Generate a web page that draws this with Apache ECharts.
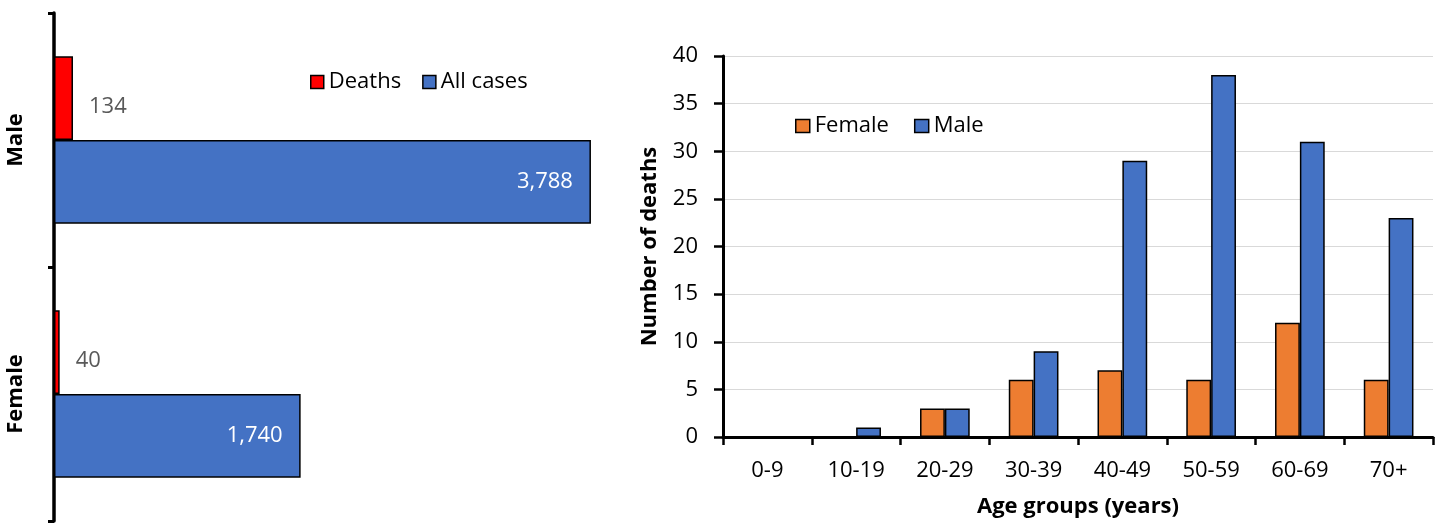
<!DOCTYPE html>
<html>
<head>
<meta charset="utf-8">
<script src="https://cdn.jsdelivr.net/npm/echarts@6/dist/echarts.min.js"></script>
<style>html,body{margin:0;padding:0;background:#fff}#c{width:1445px;height:523px}</style>
</head>
<body>
<div id="c"></div>
<script>
// Left chart data
const sexCategories = ['Male', 'Female'];
const deathsBySex = [134, 40];
const casesBySex = [3788, 1740];
// Right chart data
const ageGroups = ['0-9', '10-19', '20-29', '30-39', '40-49', '50-59', '60-69', '70+'];
const femaleDeaths = [0, 0, 3, 6, 7, 6, 12, 6];
const maleDeaths = [0, 1, 3, 9, 29, 38, 31, 23];

const FONT = 'Open Sans';
const FS = 22;
const chart = echarts.init(document.getElementById('c'));
const fmt = p => p.value.toLocaleString('en-US');

chart.setOption({
  animation: false,
  textStyle: { fontFamily: FONT },
  grid: [
    { left: 54, top: 13, bottom: 2, width: 567 },
    { left: 723, right: 12, top: 56, bottom: 83 }
  ],
  legend: [
    {
      data: ['Deaths', 'All cases'], left: 310, top: 71, padding: 0,
      itemWidth: 13, itemHeight: 13, itemGap: 21,
      icon: 'rect',
      itemStyle: { borderColor: '#000', borderWidth: 1.5 },
      textStyle: { fontFamily: FONT, fontSize: FS, color: '#000' }
    },
    {
      data: ['Female', 'Male'], left: 795, top: 115, padding: 0,
      itemWidth: 14, itemHeight: 13, itemGap: 25,
      icon: 'rect',
      itemStyle: { borderColor: '#000', borderWidth: 1.5 },
      textStyle: { fontFamily: FONT, fontSize: FS, color: '#000' }
    }
  ],
  xAxis: [
    { gridIndex: 0, type: 'value', min: 0, max: 4000, show: false },
    {
      gridIndex: 1, type: 'category', data: ageGroups,
      axisLine: { lineStyle: { color: '#000', width: 3 } },
      axisTick: { show: true, length: 8, lineStyle: { color: '#000', width: 2.5 } },
      axisLabel: { color: '#000', fontSize: FS, fontFamily: FONT, margin: 23 },
      name: 'Age groups (years)', nameLocation: 'middle', nameGap: 59,
      nameTextStyle: { fontFamily: FONT, fontSize: FS, fontWeight: 'bold', color: '#000' }
    }
  ],
  yAxis: [
    {
      gridIndex: 0, type: 'category', data: sexCategories, inverse: true,
      axisLine: { lineStyle: { color: '#000', width: 3.5 } },
      axisTick: { show: true, length: 6, lineStyle: { color: '#000', width: 3 } },
      axisLabel: { rotate: 90, color: '#000', fontSize: FS, fontWeight: 'bold', fontFamily: FONT, margin: 27 }
    },
    {
      gridIndex: 1, type: 'value', min: 0, max: 40, interval: 5,
      axisLine: { show: true, lineStyle: { color: '#000', width: 3 } },
      axisTick: { show: true, length: 9, lineStyle: { color: '#000', width: 2.5 } },
      axisLabel: { color: '#000', fontSize: FS, fontFamily: FONT, margin: 25 },
      splitLine: { lineStyle: { color: '#D9D9D9', width: 1 } },
      name: 'Number of deaths', nameLocation: 'middle', nameGap: 62, nameRotate: 90,
      nameTextStyle: { fontFamily: FONT, fontSize: FS, fontWeight: 'bold', color: '#000' }
    }
  ],
  series: [
    {
      name: 'Deaths', type: 'bar', xAxisIndex: 0, yAxisIndex: 0, data: deathsBySex,
      barGap: '0%', barCategoryGap: '34%',
      itemStyle: { color: '#FF0000', borderColor: '#000', borderWidth: 1.5 },
      label: { show: true, position: 'right', distance: 16, offset: [0, 9], color: '#595959', fontSize: FS, fontFamily: FONT, formatter: fmt }
    },
    {
      name: 'All cases', type: 'bar', xAxisIndex: 0, yAxisIndex: 0, data: casesBySex,
      barGap: '0%', barCategoryGap: '34%',
      itemStyle: { color: '#4472C4', borderColor: '#000', borderWidth: 1.5 },
      label: { show: true, position: 'insideRight', distance: 18, color: '#fff', fontSize: FS, fontFamily: FONT, formatter: fmt }
    },
    {
      name: 'Female', type: 'bar', xAxisIndex: 1, yAxisIndex: 1, data: femaleDeaths,
      barGap: '0%', barCategoryGap: '44%',
      itemStyle: { color: '#ED7D31', borderColor: '#000', borderWidth: 1.5 }
    },
    {
      name: 'Male', type: 'bar', xAxisIndex: 1, yAxisIndex: 1, data: maleDeaths,
      barGap: '0%', barCategoryGap: '44%',
      itemStyle: { color: '#4472C4', borderColor: '#000', borderWidth: 1.5 }
    }
  ]
});
</script>
</body>
</html>
